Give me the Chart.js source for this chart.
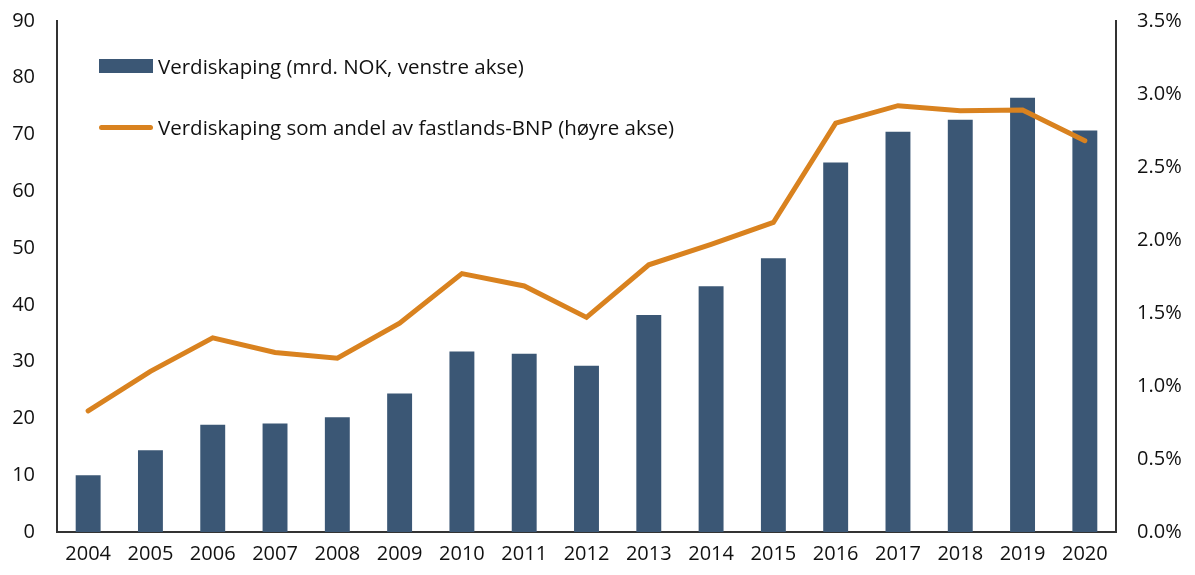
<!DOCTYPE html>
<html>
<head>
<meta charset="utf-8">
<script src="https://cdn.jsdelivr.net/npm/chart.js@4"></script>
<style>
    html, body { margin: 0; padding: 0; background: #fff; }
    #wrap { position: relative; width: 1195px; height: 575px; }
    #legend { position: absolute; left: 99px; top: 51px; font-family: "Open Sans", sans-serif; font-size: 20.5px; color: #111; }
    #legend .item { display: flex; align-items: center; height: 30px; margin-bottom: 31px; }
    #legend .swatch { width: 54px; margin-right: 5px; }
</style>
</head>
<body>
<div id="wrap">
    <canvas id="chart" width="1195" height="575"></canvas>
    <div id="legend"></div>
</div>
<script>
    const years = ["2004", "2005", "2006", "2007", "2008", "2009", "2010", "2011", "2012",
        "2013", "2014", "2015", "2016", "2017", "2018", "2019", "2020"];
    // mrd. NOK (venstre akse)
    const verdiskaping = [10.0, 14.4, 18.9, 19.1, 20.2, 24.4, 31.8, 31.4, 29.3,
        38.2, 43.3, 48.2, 65.1, 70.5, 72.6, 76.5, 70.7];
    // andel av fastlands-BNP, prosent (høyre akse)
    const andelBnp = [0.83, 1.10, 1.33, 1.23, 1.19, 1.43, 1.77, 1.685, 1.47,
        1.83, 1.97, 2.12, 2.80, 2.92, 2.885, 2.89, 2.68];

    const blue = "#3b5775";
    const orange = "#d9821f";
    const font = { family: "'Open Sans', sans-serif", size: 20 };

    // fast bredde på aksene, uten ekstra luft over/under
    const fixWidth = (w) => (s) => {
        s.width = w;
        s.paddingTop = 0;
        s.paddingBottom = 0;
    };

    const ctx = document.getElementById("chart").getContext("2d");
    const chart = new Chart(ctx, {
        data: {
            labels: years,
            datasets: [
                {
                    type: "line",
                    label: "Verdiskaping som andel av fastlands-BNP (høyre akse)",
                    data: andelBnp,
                    yAxisID: "y1",
                    borderColor: orange,
                    backgroundColor: orange,
                    borderWidth: 5,
                    pointRadius: 0,
                    borderCapStyle: "round",
                    borderJoinStyle: "miter",
                    tension: 0,
                    order: 0,
                },
                {
                    type: "bar",
                    label: "Verdiskaping (mrd. NOK, venstre akse)",
                    data: verdiskaping,
                    yAxisID: "y",
                    backgroundColor: blue,
                    categoryPercentage: 1,
                    barPercentage: 0.4,
                    order: 1,
                },
            ],
        },
        options: {
            responsive: false,
            animation: false,
            layout: { padding: { top: 21, left: 0, right: 0, bottom: 0 } },
            plugins: { legend: { display: false }, tooltip: { enabled: false } },
            scales: {
                x: {
                    grid: { display: false, drawTicks: false },
                    border: { color: "#333", width: 2 },
                    ticks: { color: "#111", font: font, padding: 10, maxRotation: 0 },
                    afterFit: (s) => { s.height = 43; s.paddingLeft = 0; s.paddingRight = 0; },
                },
                y: {
                    position: "left",
                    min: 0, max: 90,
                    grid: { display: false, drawTicks: false },
                    border: { color: "#333", width: 2 },
                    ticks: { stepSize: 10, color: "#111", font: font, padding: 22 },
                    afterFit: fixWidth(57),
                },
                y1: {
                    position: "right",
                    min: 0, max: 3.5,
                    grid: { display: false, drawTicks: false },
                    border: { color: "#333", width: 2 },
                    ticks: {
                        stepSize: 0.5, color: "#111", font: font, padding: 21,
                        callback: (v) => v.toFixed(1) + "%",
                    },
                    afterFit: fixWidth(79),
                },
            },
        },
    });

    // legend inne i plottet, bygget fra datasettene
    const legend = document.getElementById("legend");
    [chart.data.datasets[1], chart.data.datasets[0]].forEach((ds) => {
        const item = document.createElement("div");
        item.className = "item";
        const sw = document.createElement("div");
        sw.className = "swatch";
        if (ds.type === "bar") {
            sw.style.height = "14px";
            sw.style.background = ds.backgroundColor;
        } else {
            sw.style.height = "5px";
            sw.style.borderRadius = "3px";
            sw.style.background = ds.borderColor;
        }
        const txt = document.createElement("span");
        txt.textContent = ds.label;
        item.appendChild(sw);
        item.appendChild(txt);
        legend.appendChild(item);
    });
</script>
</body>
</html>
